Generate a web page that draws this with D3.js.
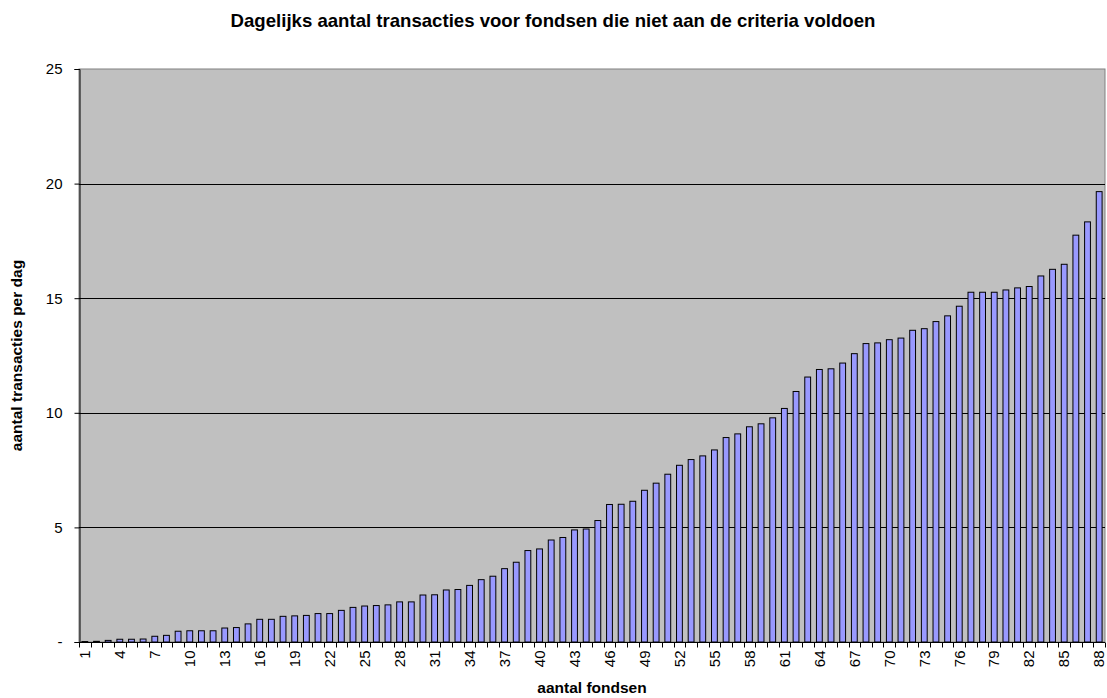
<!DOCTYPE html>
<html>
<head>
<meta charset="utf-8">
<script src="https://cdn.jsdelivr.net/npm/d3@7"></script>
<style>
  html, body { margin: 0; padding: 0; background: #ffffff; }
  svg { display: block; font-family: "Liberation Sans", Arial, sans-serif; }
</style>
</head>
<body>
<svg id="chart" width="1107" height="698"></svg>
<script>
// Daily number of transactions per fund, sorted ascending (88 funds)
const funds = d3.range(1, 89);
const transactions = [
  0.02, 0.03, 0.07, 0.12, 0.12, 0.13, 0.25, 0.29, 0.47, 0.49,
  0.49, 0.49, 0.61, 0.63, 0.79, 0.99, 0.99, 1.12, 1.14, 1.16,
  1.24, 1.24, 1.38, 1.51, 1.57, 1.59, 1.62, 1.75, 1.75, 2.05,
  2.06, 2.27, 2.29, 2.47, 2.72, 2.87, 3.20, 3.48, 3.99, 4.06,
  4.45, 4.56, 4.89, 4.93, 5.30, 6.00, 6.01, 6.14, 6.62, 6.93,
  7.32, 7.71, 7.96, 8.12, 8.38, 8.92, 9.08, 9.39, 9.52, 9.78,
  10.19, 10.93, 11.56, 11.89, 11.92, 12.17, 12.58, 13.02, 13.05, 13.19,
  13.26, 13.60, 13.67, 13.98, 14.23, 14.65, 15.26, 15.26, 15.26, 15.36,
  15.45, 15.51, 15.97, 16.26, 16.48, 17.75, 18.33, 19.65
];
const yTicks = [0, 5, 10, 15, 20, 25];
const xTickLabels = funds.filter(d => (d - 1) % 3 === 0);

const title = "Dagelijks aantal transacties voor fondsen die niet aan de criteria voldoen";
const xTitle = "aantal fondsen";
const yTitle = "aantal transacties per dag";

const svg = d3.select("#chart");
const plot = { left: 79, right: 1105, top: 69, bottom: 642 };

const x = d3.scaleBand()
  .domain(funds)
  .range([plot.left, plot.right])
  .paddingInner(0)
  .paddingOuter(0);

const y = d3.scaleLinear()
  .domain([0, 25])
  .range([plot.bottom, plot.top]);

// plot background
svg.append("rect")
  .attr("x", plot.left).attr("y", plot.top)
  .attr("width", plot.right - plot.left)
  .attr("height", plot.bottom - plot.top)
  .attr("fill", "#c0c0c0")
  .attr("stroke", "#808080")
  .attr("stroke-width", 1);

// horizontal gridlines
svg.append("g")
  .selectAll("line")
  .data(yTicks.filter(t => t > 0 && t < 25))
  .join("line")
  .attr("x1", plot.left).attr("x2", plot.right)
  .attr("y1", d => Math.round(y(d)) + 0.5)
  .attr("y2", d => Math.round(y(d)) + 0.5)
  .attr("stroke", "#000000")
  .attr("stroke-width", 1);

// bars
const barW = x.bandwidth() * 0.5;
svg.append("g")
  .selectAll("rect")
  .data(funds)
  .join("rect")
  .attr("x", d => x(d) + (x.bandwidth() - barW) / 2)
  .attr("y", (d, i) => y(transactions[i]))
  .attr("width", barW)
  .attr("height", (d, i) => y(0) - y(transactions[i]))
  .attr("fill", "#9999ff")
  .attr("stroke", "#000000")
  .attr("stroke-width", 1);

// y axis
const yAxis = d3.axisLeft(y)
  .tickValues(yTicks)
  .tickSize(5)
  .tickPadding(12)
  .tickFormat(d => d === 0 ? "-" : d3.format("d")(d));

const gy = svg.append("g")
  .attr("transform", `translate(${plot.left + 0.5},0)`)
  .call(yAxis);
gy.select(".domain").attr("stroke", "#000000");
gy.selectAll(".tick line").attr("stroke", "#000000");
gy.selectAll(".tick text")
  .attr("font-size", 15)
  .attr("fill", "#000000")
  .style("font-family", "'Liberation Sans', Arial, sans-serif");

// x axis: tick marks at category boundaries
const gx = svg.append("g")
  .attr("transform", `translate(0,${plot.bottom + 0.5})`);
gx.append("line")
  .attr("x1", plot.left).attr("x2", plot.right)
  .attr("stroke", "#000000");
gx.selectAll("line.tick")
  .data(d3.range(0, funds.length + 1))
  .join("line")
  .attr("class", "tick")
  .attr("x1", i => Math.round(plot.left + i * x.step()) + 0.5)
  .attr("x2", i => Math.round(plot.left + i * x.step()) + 0.5)
  .attr("y1", 0).attr("y2", 5)
  .attr("stroke", "#000000");

// x tick labels, rotated
gx.selectAll("text")
  .data(xTickLabels)
  .join("text")
  .attr("transform", d => `translate(${x(d) + x.bandwidth() / 2},8) rotate(-90)`)
  .attr("text-anchor", "end")
  .attr("dy", "0.35em")
  .attr("font-size", 15)
  .attr("fill", "#000000")
  .text(d => d);

// titles
svg.append("text")
  .attr("x", 553).attr("y", 27)
  .attr("text-anchor", "middle")
  .attr("font-size", 18.6)
  .attr("font-weight", "bold")
  .text(title);

svg.append("text")
  .attr("x", (plot.left + plot.right) / 2).attr("y", 693)
  .attr("text-anchor", "middle")
  .attr("font-size", 15.5)
  .attr("font-weight", "bold")
  .text(xTitle);

svg.append("text")
  .attr("transform", `translate(22,${(plot.top + plot.bottom) / 2}) rotate(-90)`)
  .attr("text-anchor", "middle")
  .attr("font-size", 15.5)
  .attr("font-weight", "bold")
  .text(yTitle);
</script>
</body>
</html>
